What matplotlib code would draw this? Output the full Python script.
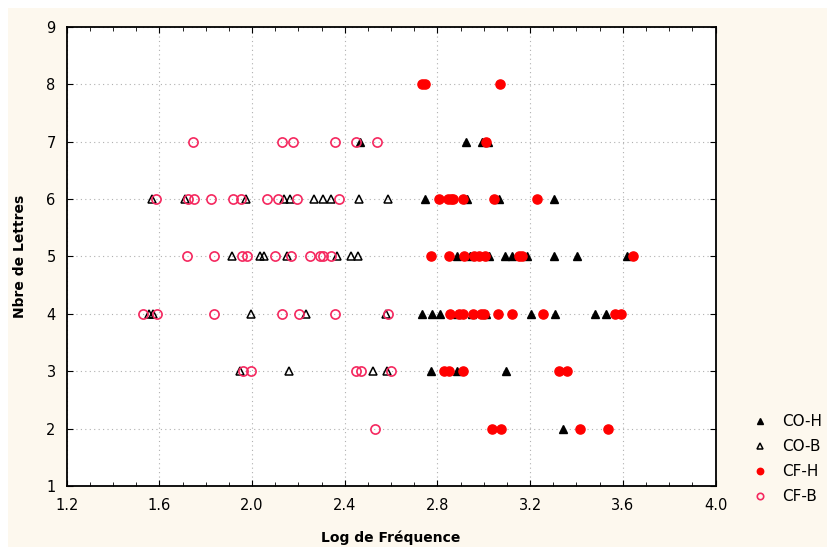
import matplotlib
matplotlib.use("Agg")
import matplotlib.pyplot as plt
from matplotlib.ticker import MultipleLocator
from matplotlib.patches import Rectangle

# CO-H : triangles pleins
co_h_x = [2.466, 2.922, 2.991, 3.020,
          2.748, 2.926, 3.066, 3.303,
          2.883, 2.941, 3.024, 3.092, 3.121, 3.185, 3.303, 3.404, 3.617,
          2.735, 2.778, 2.811, 2.883, 2.948, 3.008, 3.204, 3.308, 3.480, 3.528,
          2.772, 2.883, 3.097,
          3.341]
co_h_y = [7, 7, 7, 7,
          6, 6, 6, 6,
          5, 5, 5, 5, 5, 5, 5, 5, 5,
          4, 4, 4, 4, 4, 4, 4, 4, 4, 4,
          3, 3, 3,
          2]

# CO-B : triangles vides
co_b_x = [1.567, 1.711, 1.973, 2.139, 2.164, 2.267, 2.305, 2.339, 2.463, 2.585,
          1.915, 2.034, 2.052, 2.149, 2.365, 2.426, 2.459,
          1.557, 1.571, 1.995, 2.231, 2.578,
          1.948, 2.158, 2.523, 2.581]
co_b_y = [6, 6, 6, 6, 6, 6, 6, 6, 6, 6,
          5, 5, 5, 5, 5, 5, 5,
          4, 4, 4, 4, 4,
          3, 3, 3, 3]

# CF-H : ronds pleins
cf_h_x = [2.735, 2.745, 3.070,
          3.010,
          2.805, 2.847, 2.860, 2.868, 2.909, 3.046, 3.230,
          2.772, 2.850, 2.915, 2.958, 2.981, 3.005, 3.152, 3.166, 3.646,
          2.854, 2.894, 2.909, 2.955, 2.988, 3.002, 3.062, 3.120, 3.257, 3.566, 3.591,
          2.829, 2.851, 2.909, 3.325, 3.358,
          3.034, 3.076, 3.415, 3.537]
cf_h_y = [8, 8, 8,
          7,
          6, 6, 6, 6, 6, 6, 6,
          5, 5, 5, 5, 5, 5, 5, 5, 5,
          4, 4, 4, 4, 4, 4, 4, 4, 4, 4, 4,
          3, 3, 3, 3, 3,
          2, 2, 2, 2]

# CF-B : ronds vides
cf_b_x = [1.744, 2.131, 2.175, 2.357, 2.449, 2.541,
          1.584, 1.722, 1.751, 1.821, 1.919, 1.952, 2.066, 2.113, 2.193, 2.375,
          1.721, 1.837, 1.955, 1.977, 2.099, 2.168, 2.252, 2.293, 2.307, 2.339,
          1.528, 1.588, 1.837, 2.131, 2.203, 2.358, 2.588,
          1.962, 1.994, 2.449, 2.470, 2.600,
          2.531]
cf_b_y = [7, 7, 7, 7, 7, 7,
          6, 6, 6, 6, 6, 6, 6, 6, 6, 6,
          5, 5, 5, 5, 5, 5, 5, 5, 5, 5,
          4, 4, 4, 4, 4, 4, 4,
          3, 3, 3, 3, 3,
          2]

bg = '#fdf8ee'
pink = '#f5285f'

fig = plt.figure(figsize=(8.27, 5.49), dpi=100, facecolor='white')
# fond creme avec une petite marge blanche en haut et a gauche
fig.patches.append(Rectangle((8 / 827, 2 / 549), 1, 539 / 549, transform=fig.transFigure,
                             facecolor=bg, edgecolor='none', zorder=-10))

ax = fig.add_axes([0.0807, 0.1148, 0.7845, 0.836])
ax.set_facecolor('white')

ax.plot(co_b_x, co_b_y, linestyle='none', marker='^', ms=6.3, mfc='none',
        mec='black', mew=1.1, label='CO-B', zorder=3)
ax.plot(co_h_x, co_h_y, linestyle='none', marker='^', ms=6.3, mfc='black',
        mec='black', label='CO-H', zorder=3)
ax.plot(cf_b_x, cf_b_y, linestyle='none', marker='o', ms=6.6, mfc='none',
        mec=pink, mew=1.2, label='CF-B', zorder=4)
ax.plot(cf_h_x, cf_h_y, linestyle='none', marker='o', ms=6.6, mfc='red',
        mec='red', label='CF-H', zorder=4)

ax.set_xlim(1.2, 4.0)
ax.set_ylim(1, 9)
ax.xaxis.set_major_locator(MultipleLocator(0.4))
ax.xaxis.set_minor_locator(MultipleLocator(0.1))
ax.yaxis.set_major_locator(MultipleLocator(1))
ax.set_xticklabels([f'{v:.1f}' for v in ax.get_xticks()])
ax.tick_params(which='both', direction='in', top=True, right=True, labelsize=10.5)
ax.tick_params(which='major', length=4)
ax.tick_params(which='minor', length=3)
ax.tick_params(axis='x', pad=9)
ax.tick_params(axis='y', pad=8)
ax.grid(True, which='major', linestyle=(0, (1, 3)), color='#b0b0b0', linewidth=0.8)
for s in ax.spines.values():
    s.set_linewidth(1.3)

ax.set_xlabel('Log de Fréquence', fontweight='bold', fontsize=10, labelpad=12)
ax.set_ylabel('Nbre de Lettres', fontweight='bold', fontsize=10, labelpad=14)

# legende a droite, pres du bord de la figure
h, l = ax.get_legend_handles_labels()
order = ['CO-H', 'CO-B', 'CF-H', 'CF-B']
hs = [h[l.index(o)] for o in order]
leg = fig.legend(hs, order, loc='upper left', bbox_to_anchor=(0.902, 0.257),
                 frameon=False, fontsize=11, markerscale=0.7, handlelength=1.0,
                 handletextpad=1.0, labelspacing=0.66, borderaxespad=0)

fig.savefig('out.png', dpi=100, facecolor='white')
